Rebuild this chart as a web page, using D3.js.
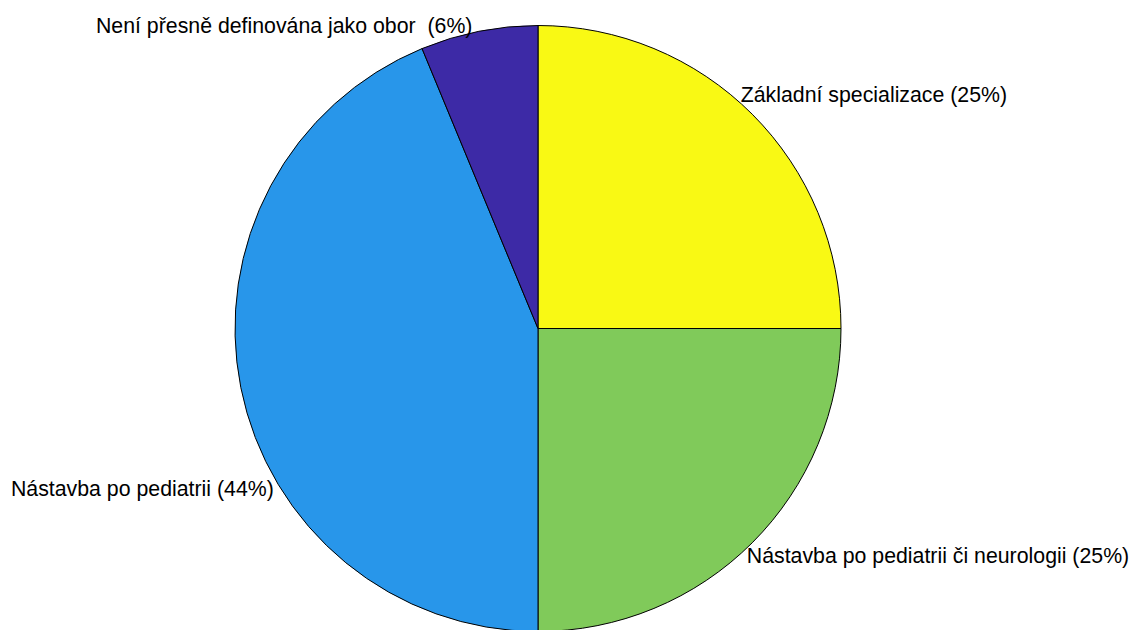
<!DOCTYPE html>
<html>
<head>
  <meta charset="utf-8">
  <title>Pie</title>
  <script src="https://cdnjs.cloudflare.com/ajax/libs/d3/7.8.5/d3.min.js"></script>
  <style>
    body { margin: 0; background: #fff; }
    text { font-family: "Liberation Sans", Arial, sans-serif; font-size: 21.3px; fill: #000; }
  </style>
</head>
<body>
<div id="chart"></div>
<script>
// data (parts out of 16)
var categories = ["Základní specializace", "Nástavba po pediatrii či neurologii", "Nástavba po pediatrii", "Není přesně definována jako obor "];
var values = [4, 4, 7, 1];
var percentLabels = ["25%", "25%", "44%", "6%"];
var colors = ["#f9f914", "#80ca5a", "#2896ea", "#3d2aa6"];

// label nudges in degrees (layout only)
var labelTurn = [-4, 2.5, -20, -1];

var width = 1134, height = 630;
var cx = 538, cy = 328.5, R = 303;

var svg = d3.select("#chart").append("svg")
    .attr("width", width)
    .attr("height", height);

var g = svg.append("g")
    .attr("transform", "translate(" + cx + "," + cy + ")");

var pie = d3.pie().sort(null).value(d => d);
var arcs = pie(values);
var arc = d3.arc().innerRadius(0).outerRadius(R);

g.selectAll("path")
    .data(arcs)
    .enter()
    .append("path")
    .attr("d", arc)
    .attr("fill", (d, i) => colors[i])
    .attr("stroke", "#000")
    .attr("stroke-width", 1);

var rl = R * 1.02;
g.selectAll("text")
    .data(arcs)
    .enter()
    .append("text")
    .each(function (d, i) {
        var a = (d.startAngle + d.endAngle) / 2 + labelTurn[i] * Math.PI / 180;
        var x = rl * Math.sin(a), y = -rl * Math.cos(a);
        d3.select(this)
            .attr("x", x)
            .attr("y", y)
            .attr("dominant-baseline", "central")
            .attr("text-anchor", Math.sin(a) >= 0 ? "start" : "end")
            .style("white-space", "pre")
            .text(categories[i] + " (" + percentLabels[i] + ")");
    });
</script>
</body>
</html>
